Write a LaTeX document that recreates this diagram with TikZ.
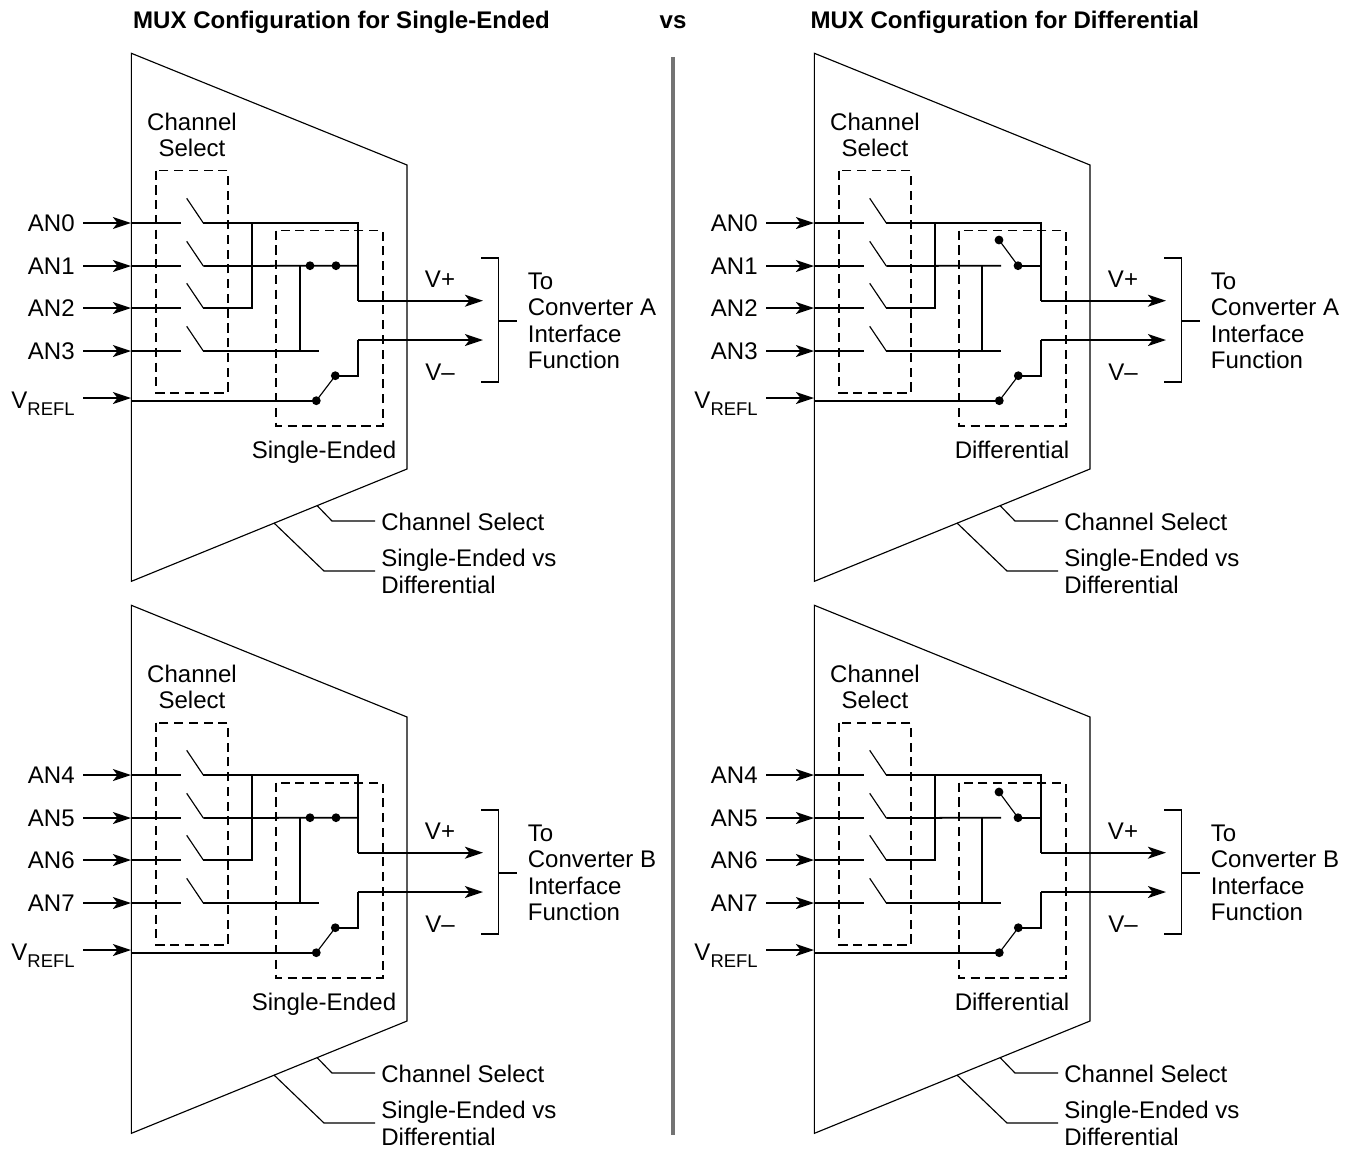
\documentclass[tikz,border=0pt]{standalone}
\usepackage{fontspec}
\setmainfont{Liberation Sans}
\usetikzlibrary{arrows.meta}
\tikzset{
  wire/.style={line width=1pt},
  thinline/.style={line width=0.65pt},
  dashbox/.style={line width=0.9pt,dash pattern=on 5.2pt off 3.2pt},
  arrowwire/.style={line width=1pt,-{Stealth[length=10.3pt,width=6.8pt,inset=2.6pt]}},
  dotmark/.style={fill=black},
  lbl/.style={inner sep=0pt,font=\fontsize{13.68}{15.1}\selectfont,align=left},
  titlelbl/.style={inner sep=0pt,anchor=base,font=\fontsize{13.68}{15.1}\selectfont\bfseries}
}
% AN1/AN3 routing of the single-ended mux
\newcommand{\singlepart}{
  \coordinate (tieA) at (300,265.7);
  \coordinate (tieB) at (300,351);
  \draw[wire] (pivot1) -- (358,265.7);
  \draw[wire] (pivot3) -- (319,351);
  \draw[wire] (tieA) -- (tieB);
  \fill[dotmark] (310,265.7) circle (4.4);
  \fill[dotmark] (336,265.7) circle (4.4);
}
% AN1/AN3 routing of the differential mux
\newcommand{\diffpart}{
  \coordinate (tieA) at (299,265.7);
  \coordinate (tieB) at (299,351);
  \coordinate (dtop) at (316,240);
  \coordinate (dbot) at (335,265.7);
  \draw[wire] (pivot1) -- (318,265.7);
  \draw[wire] (pivot3) -- (318,351);
  \draw[wire] (tieA) -- (tieB);
  \draw[wire] (dbot) -- (358,265.7);
  \draw[thinline] (dtop) -- (dbot);
  \fill[dotmark] (dtop) circle (4.4);
  \fill[dotmark] (dbot) circle (4.4);
}
% #1 x shift, #2 y shift, #3 first channel, #4 converter, #5 mode text, #6 mode x, #7 routing
\newcommand{\muxpanel}[7]{
  \begin{scope}[shift={(#1,#2)}]
    \draw[thinline] (131.4,53.3) -- (407,165) -- (407,469) -- (131.4,581.3) -- cycle;
    \draw[dashbox] (156,170.7) rectangle (228,392.7);
    \draw[dashbox] (276,230.7) rectangle (383,425.7);
    \node[lbl,align=center] (chsel) at (192,135) {Channel\\Select};
    \foreach \row/\yy in {0/223,1/266,2/308,3/351}{
      \pgfmathtruncatemacro{\chan}{#3+\row}
      \coordinate (start\row) at (83,\yy);
      \coordinate (in\row) at (131,\yy);
      \coordinate (gap\row) at (181,\yy);
      \coordinate (pivot\row) at (203.3,\yy);
      \coordinate (blade\row) at (186.7,\yy-24.7);
      \node[lbl,anchor=base east] (an\row) at (75,\yy+8.6) {AN\chan};
      \draw[arrowwire] (start\row) -- (in\row);
      \draw[wire] (in\row) -- (gap\row);
      \draw[thinline] (pivot\row) -- (blade\row);
    }
    #7
    \coordinate (turnP) at (358,223);
    \coordinate (dropP) at (358,300.7);
    \coordinate (tipP) at (483,300.7);
    \coordinate (tie) at (251.7,223);
    \coordinate (tieC) at (251.7,308);
    \draw[wire] (pivot0) -- (turnP) -- (dropP);
    \draw[arrowwire] (dropP) -- (tipP);
    \draw[wire] (pivot2) -- (tieC) -- (tie);
    \coordinate (vstart) at (83,398);
    \coordinate (vend) at (131,398);
    \coordinate (vin) at (131,400.7);
    \coordinate (swA) at (316.3,400.7);
    \coordinate (swB) at (335.3,375.7);
    \coordinate (turnM) at (358,375.7);
    \coordinate (riseM) at (358,340);
    \coordinate (tipM) at (483,340);
    \node[lbl,anchor=base east] (vrefl) at (75,408)
      {V\raisebox{-4pt}{\fontsize{10.5}{12}\selectfont REFL}};
    \draw[arrowwire] (vstart) -- (vend);
    \draw[wire] (vin) -- (swA);
    \draw[thinline] (swA) -- (swB);
    \draw[wire] (swB) -- (turnM) -- (riseM);
    \draw[arrowwire] (riseM) -- (tipM);
    \fill[dotmark] (swA) circle (4.4);
    \fill[dotmark] (swB) circle (4.4);
    \node[lbl] (vplus) at (440,279) {V+};
    \node[lbl] (vminus) at (440,372) {V–};
    \draw[wire] (481,257.7) -- (498.5,257.7) -- (498.5,381.7) -- (481,381.7);
    \coordinate (brk) at (498.5,321);
    \coordinate (brkend) at (517,321);
    \draw[wire] (brk) -- (brkend);
    \node[lbl,anchor=west] (conv) at (527.5,321) {To\\Converter #4\\Interface\\Function};
    \node[lbl,anchor=base] (mode) at (#6,458.5) {#5};
    \coordinate (selA) at (317,505.5);
    \coordinate (selB) at (332,521);
    \coordinate (selC) at (375,521);
    \coordinate (sedA) at (274,523);
    \coordinate (sedB) at (324,571);
    \coordinate (sedC) at (375,571);
    \draw[thinline] (selA) -- (selB) -- (selC);
    \draw[thinline] (sedA) -- (sedB) -- (sedC);
    \node[lbl,anchor=west] (sellbl) at (381,522) {Channel Select};
    \node[lbl,anchor=west] (sedlbl) at (381,571.5) {Single-Ended vs\\Differential};
  \end{scope}
}
\begin{document}
\begin{tikzpicture}[x=0.02cm,y=-0.02cm]
  \useasboundingbox (0,0) rectangle (1351,1150);
  \node[titlelbl] (titleL) at (341.5,28.5) {MUX Configuration for Single-Ended};
  \node[titlelbl] (titleV) at (673,28.5) {vs};
  \node[titlelbl] (titleR) at (1004.8,28.5) {MUX Configuration for Differential};
  \coordinate (sepT) at (673,57);
  \coordinate (sepB) at (673,1135);
  \draw[line width=2pt,black!55] (sepT) -- (sepB);
  \muxpanel{0}{0}{0}{A}{Single-Ended}{324}{\singlepart}
  \muxpanel{683}{0}{0}{A}{Differential}{329}{\diffpart}
  \muxpanel{0}{552}{4}{B}{Single-Ended}{324}{\singlepart}
  \muxpanel{683}{552}{4}{B}{Differential}{329}{\diffpart}
\end{tikzpicture}
\end{document}
